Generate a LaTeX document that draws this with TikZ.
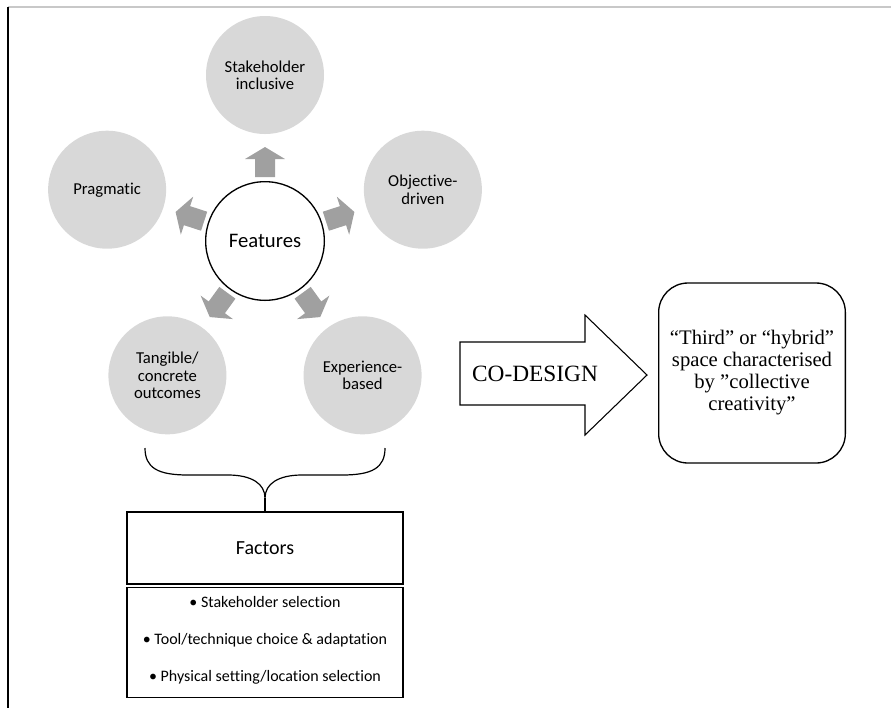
\documentclass[tikz,border=0pt]{standalone}
\usepackage{fontspec}
\setmainfont{Carlito}[Ligatures={NoCommon}]
\newfontfamily\timesf{Liberation Serif}
\usetikzlibrary{calc}
\definecolor{circfill}{HTML}{D8D8D8}
\definecolor{arrfill}{HTML}{A0A0A0}
\definecolor{topline}{HTML}{C8C8C8}
\begin{document}
\begin{tikzpicture}[x=0.75pt,y=0.75pt,
  outer/.style={circle,fill=circfill,minimum size=88.5pt,inner sep=0pt,align=center,
    font=\fontsize{12.5}{13}\selectfont},
  featc/.style={circle,draw,line width=1pt,minimum size=89pt,inner sep=0pt,
    font=\fontsize{15.5}{18}\selectfont},
  featarrow/.pic={\fill[arrfill] (64,-10)--(82,-10)--(82,-20)--(94,0)--(82,20)--(82,10)--(64,10)--cycle;},
  boxs/.style={draw,line width=0.9pt,minimum width=207pt,inner sep=0pt},
  bullet/.style={font=\fontsize{12}{14}\selectfont},
  ]
\useasboundingbox (0,0) rectangle (891,-708);
\draw[topline,line width=0.8pt] (8,-7) -- (891,-7);
\draw[line width=1.2pt] (8,-7) -- (8,-708);

\coordinate (F) at (265,-241);
\node[featc] (feat) at (F) {Features};
\node[outer] (stake) at ($(F)+(90:166)$) {Stakeholder\\inclusive};
\node[outer] (prag) at ($(F)+(162:166)$) {Pragmatic};
\node[outer] (obj) at ($(F)+(18:166)$) {Objective-\\driven};
\node[outer] (tang) at ($(F)+(234:166)$) {Tangible/\\concrete\\outcomes};
\node[outer] (exp) at ($(F)+(306:166)$) {Experience-\\based};
\foreach \a in {90,162,18,234,306} \pic[rotate=\a] at (F) {featarrow};

% brace
\coordinate (bl) at (145,-448);
\coordinate (br) at (385,-448);
\coordinate (btip) at (265,-498);
\draw[line width=0.9pt] (bl) .. controls (145,-468) and (158,-475) .. (188,-475) -- (228,-475)
  .. controls (252,-475) and (265,-484) .. (btip)
  .. controls (265,-484) and (278,-475) .. (302,-475) -- (342,-475)
  .. controls (372,-475) and (385,-468) .. (br);

\node[boxs,minimum height=54pt,font=\fontsize{15}{18}\selectfont] (factors) at (265,-548) {Factors};
\draw[line width=0.9pt] (btip) -- (factors.north);
\node[boxs,minimum height=83pt] (list) at (265,-642.5) {};
\node[bullet] (b1) at (265,-602) {• Stakeholder selection};
\node[bullet] (b2) at (265,-640) {• Tool/technique choice \& adaptation};
\node[bullet] (b3) at (265,-677) {• Physical setting/location selection};

% co-design arrow
\draw[line width=0.8pt,line join=miter] (460,-342) -- (585,-342) -- (585,-315) -- (647,-375)
  -- (585,-435) -- (585,-405) -- (460,-405) -- cycle;
\node[font=\timesf\fontsize{17.5}{20}\selectfont] (codesign) at (535,-374) {CO-DESIGN};

\node[draw,line width=1pt,rounded corners=22pt,minimum width=140pt,minimum height=135pt,
  align=center,font=\timesf\fontsize{15.5}{16.5}\selectfont] (space) at (752,-373)
  {“Third” or “hybrid”\\space characterised\\by ”collective\\creativity”};
\end{tikzpicture}
\end{document}
